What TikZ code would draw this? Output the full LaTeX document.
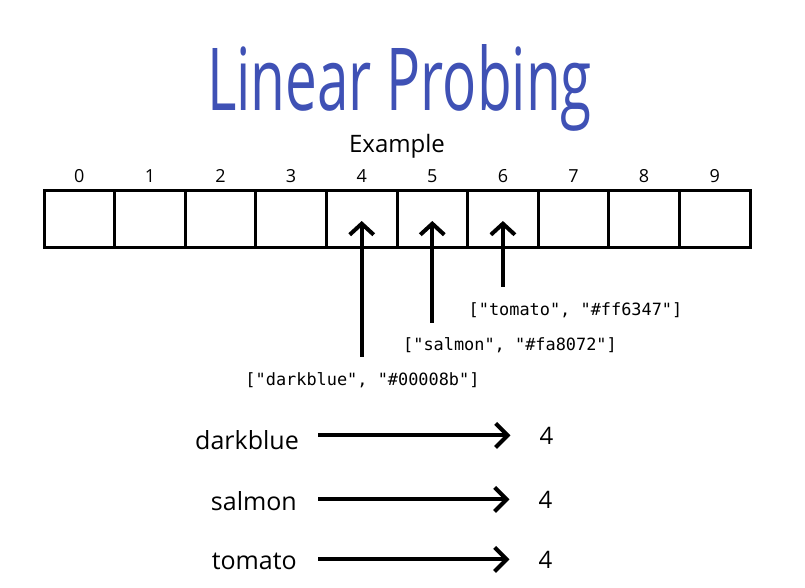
\documentclass[tikz,border=0pt]{standalone}
\usepackage{fontspec}
\usepackage{graphicx}
\setmainfont{Open Sans}
\newfontfamily\monofont{DejaVu Sans Mono}
\usetikzlibrary{arrows.meta,calc}
\definecolor{titleblue}{HTML}{3F51B5}
\begin{document}
\begin{tikzpicture}[x=1pt,y=-1pt,
  cell/.style={draw,line width=3pt,minimum width=70.6pt,minimum height=57pt,inner sep=0pt,outer sep=0pt},
  idx/.style={font=\fontsize{18}{18}\selectfont,anchor=base,inner sep=0pt},
  pair/.style={font=\monofont\fontsize{16.9}{17}\selectfont,anchor=base,inner sep=0pt},
  key/.style={font=\fontsize{25}{25}\selectfont,anchor=base east,inner sep=0pt},
  val/.style={font=\fontsize{24}{24}\selectfont,anchor=base,inner sep=0pt},
  uparr/.style={line width=4pt,-{Straight Barb[length=11pt,width=24pt]}},
  rarr/.style={line width=4pt,-{Straight Barb[length=12pt,width=24pt]},shorten <=19pt,shorten >=29pt},
]
\useasboundingbox (0,0) rectangle (805,587);
% title
\node[inner sep=0pt,anchor=base,text=titleblue] (title) at (399.5,110)
  {\resizebox{385pt}{66pt}{\fontsize{90}{90}\selectfont Linear Probing}};
\node[font=\fontsize{24}{24}\selectfont,anchor=base,inner sep=0pt] (ex) at (397,152) {Example};
% array
\foreach \i in {0,...,9} {
  \node[cell] (c\i) at ({79.3+70.6*\i},219) {};
  \node[idx] (n\i) at ({79.3+70.6*\i},182) {\i};
}
% pairs
\node[pair] (pT) at (575.5,315) {["tomato", "\#ff6347"]};
\node[pair] (pS) at (510,350) {["salmon", "\#fa8072"]};
\node[pair] (pD) at (362.5,385) {["darkblue", "\#00008b"]};
\draw[uparr] ($(c4.center |- pD.north)+(0,-15)$) -- ([yshift=-2pt]c4.center);
\draw[uparr] ($(c5.center |- pS.north)+(0,-14)$) -- ([yshift=-2pt]c5.center);
\draw[uparr] ($(c6.center |- pT.north)+(0,-15)$) -- ([yshift=-2pt]c6.center);
% hash results
\node[key] (kD) at (299,449) {darkblue};
\node[key] (kS) at (297,510) {salmon};
\node[key] (kT) at (297,569) {tomato};
\node[val] (vD) at (546.5,444) {4};
\node[val] (vS) at (545.5,508) {4};
\node[val] (vT) at (545.5,568) {4};
\draw[rarr] (kD.east |- vD.west) -- (vD.west);
\draw[rarr] ([xshift=2pt]kS.east |- vS.west) -- (vS.west);
\draw[rarr] ([xshift=2pt]kT.east |- vT.west) -- (vT.west);
\end{tikzpicture}
\end{document}
